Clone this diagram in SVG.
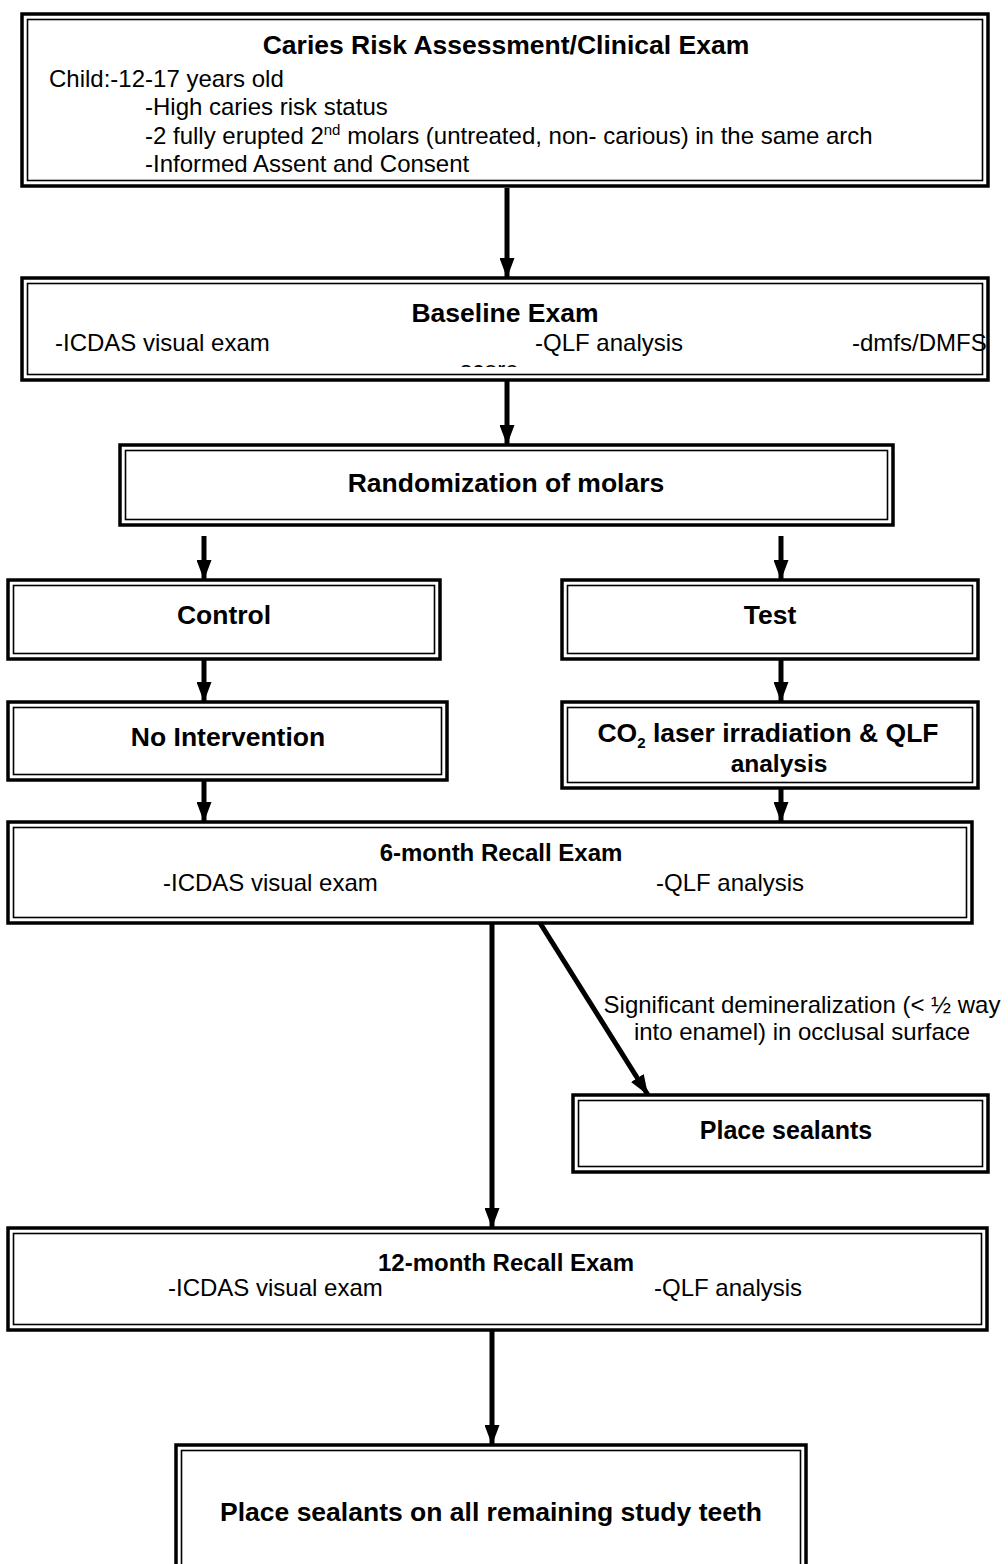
<svg xmlns="http://www.w3.org/2000/svg" width="1008" height="1564" viewBox="0 0 1008 1564">
<style>
.o{fill:#fff;stroke:#000;stroke-width:3.5}
.i{fill:none;stroke:#000;stroke-width:1.6}
text{font-family:"Liberation Sans",Arial,sans-serif;font-size:24px;fill:#000}
.b{font-weight:bold;font-size:26.5px}
.c{text-anchor:middle}
.ln{stroke:#000;stroke-width:5;fill:none}
</style>
<defs>
<marker id="ah" markerUnits="userSpaceOnUse" markerWidth="20" markerHeight="15" refX="20" refY="7.5" viewBox="0 0 20 15" orient="auto">
<path d="M0,0 L20,7.5 L0,15 Z" fill="#000"/>
</marker>
<clipPath id="clipScore"><rect x="400" y="300" width="200" height="67"/></clipPath>
</defs>
<rect width="1008" height="1564" fill="#fff"/>

<g id="connectors">
<line class="ln" x1="507" y1="188" x2="507" y2="278" marker-end="url(#ah)"/>
<line class="ln" x1="507" y1="380" x2="507" y2="445" marker-end="url(#ah)"/>
<line class="ln" x1="204" y1="536" x2="204" y2="580" marker-end="url(#ah)"/>
<line class="ln" x1="781" y1="536" x2="781" y2="580" marker-end="url(#ah)"/>
<line class="ln" x1="204" y1="659" x2="204" y2="702" marker-end="url(#ah)"/>
<line class="ln" x1="781" y1="659" x2="781" y2="702" marker-end="url(#ah)"/>
<line class="ln" x1="204" y1="780" x2="204" y2="822" marker-end="url(#ah)"/>
<line class="ln" x1="781" y1="788" x2="781" y2="822" marker-end="url(#ah)"/>
<line class="ln" x1="492" y1="923" x2="492" y2="1228" marker-end="url(#ah)"/>
<line class="ln" x1="540" y1="923" x2="648" y2="1095" marker-end="url(#ah)"/>
<line class="ln" x1="492" y1="1330" x2="492" y2="1445" marker-end="url(#ah)"/>
<text x="802" y="1013" font-size="23" class="c">Significant demineralization (&lt; ½ way</text>
<text x="802" y="1040" font-size="23" class="c">into enamel) in occlusal surface</text>
</g>

<g id="n1">
<rect class="o" x="22" y="14" width="966" height="172"/>
<rect class="i" x="27.5" y="19.5" width="955" height="161"/>
<text class="b c" x="506" y="54">Caries Risk Assessment/Clinical Exam</text>
<text x="49" y="87">Child:-12-17 years old</text>
<text x="145" y="115">-High caries risk status</text>
<text x="145" y="144">-2 fully erupted 2<tspan dy="-9" font-size="15">nd</tspan><tspan dy="9"> molars (untreated, non- carious) in the same arch</tspan></text>
<text x="145" y="172">-Informed Assent and Consent</text>
</g>

<g id="n2">
<rect class="o" x="22" y="278" width="966" height="102"/>
<rect class="i" x="27.5" y="283.5" width="955" height="91"/>
<text class="b c" x="505" y="322">Baseline Exam</text>
<text x="55" y="351">-ICDAS visual exam</text>
<text x="535" y="351">-QLF analysis</text>
<text x="852" y="351">-dmfs/DMFS</text>
<text x="460" y="378" clip-path="url(#clipScore)">score</text>
</g>

<g id="n3">
<rect class="o" x="120" y="445" width="773" height="80"/>
<rect class="i" x="125.5" y="450.5" width="762" height="69"/>
<text class="b c" x="506" y="492">Randomization of molars</text>
</g>

<g id="n4">
<rect class="o" x="8" y="580" width="432" height="79"/>
<rect class="i" x="13.5" y="585.5" width="421" height="68"/>
<text class="b c" x="224" y="624">Control</text>
</g>

<g id="n5">
<rect class="o" x="562" y="580" width="416" height="79"/>
<rect class="i" x="567.5" y="585.5" width="405" height="68"/>
<text class="b c" x="770" y="624">Test</text>
</g>

<g id="n6">
<rect class="o" x="8" y="702" width="439" height="78"/>
<rect class="i" x="13.5" y="707.5" width="428" height="67"/>
<text class="b c" x="228" y="746">No Intervention</text>
</g>

<g id="n7">
<rect class="o" x="562" y="702" width="416" height="86"/>
<rect class="i" x="567.5" y="707.5" width="405" height="75"/>
<text class="b c" x="768" y="742" font-size="24.5">CO<tspan dy="6" font-size="15">2</tspan><tspan dy="-6"> laser irradiation &amp; QLF</tspan></text>
<text class="b c" x="779" y="772" font-size="24.5" style="font-size:24.5px">analysis</text>
</g>

<g id="n8">
<rect class="o" x="8" y="822" width="964" height="101"/>
<rect class="i" x="13.5" y="827.5" width="953" height="90"/>
<text class="b c" x="501" y="861" style="font-size:24px">6-month Recall Exam</text>
<text x="163" y="891">-ICDAS visual exam</text>
<text x="656" y="891">-QLF analysis</text>
</g>

<g id="n9">
<rect class="o" x="573" y="1095" width="415" height="77"/>
<rect class="i" x="578.5" y="1100.5" width="404" height="66"/>
<text class="b c" x="786" y="1139" style="font-size:25px">Place sealants</text>
</g>

<g id="n10">
<rect class="o" x="8" y="1228" width="979" height="102"/>
<rect class="i" x="13.5" y="1233.5" width="968" height="91"/>
<text class="b c" x="506" y="1271" style="font-size:24px">12-month Recall Exam</text>
<text x="168" y="1296">-ICDAS visual exam</text>
<text x="654" y="1296">-QLF analysis</text>
</g>

<g id="n11">
<rect class="o" x="176" y="1445" width="630" height="160"/>
<rect class="i" x="181.5" y="1450.5" width="619" height="160"/>
<text class="b c" x="491" y="1521">Place sealants on all remaining study teeth</text>
</g>
</svg>
